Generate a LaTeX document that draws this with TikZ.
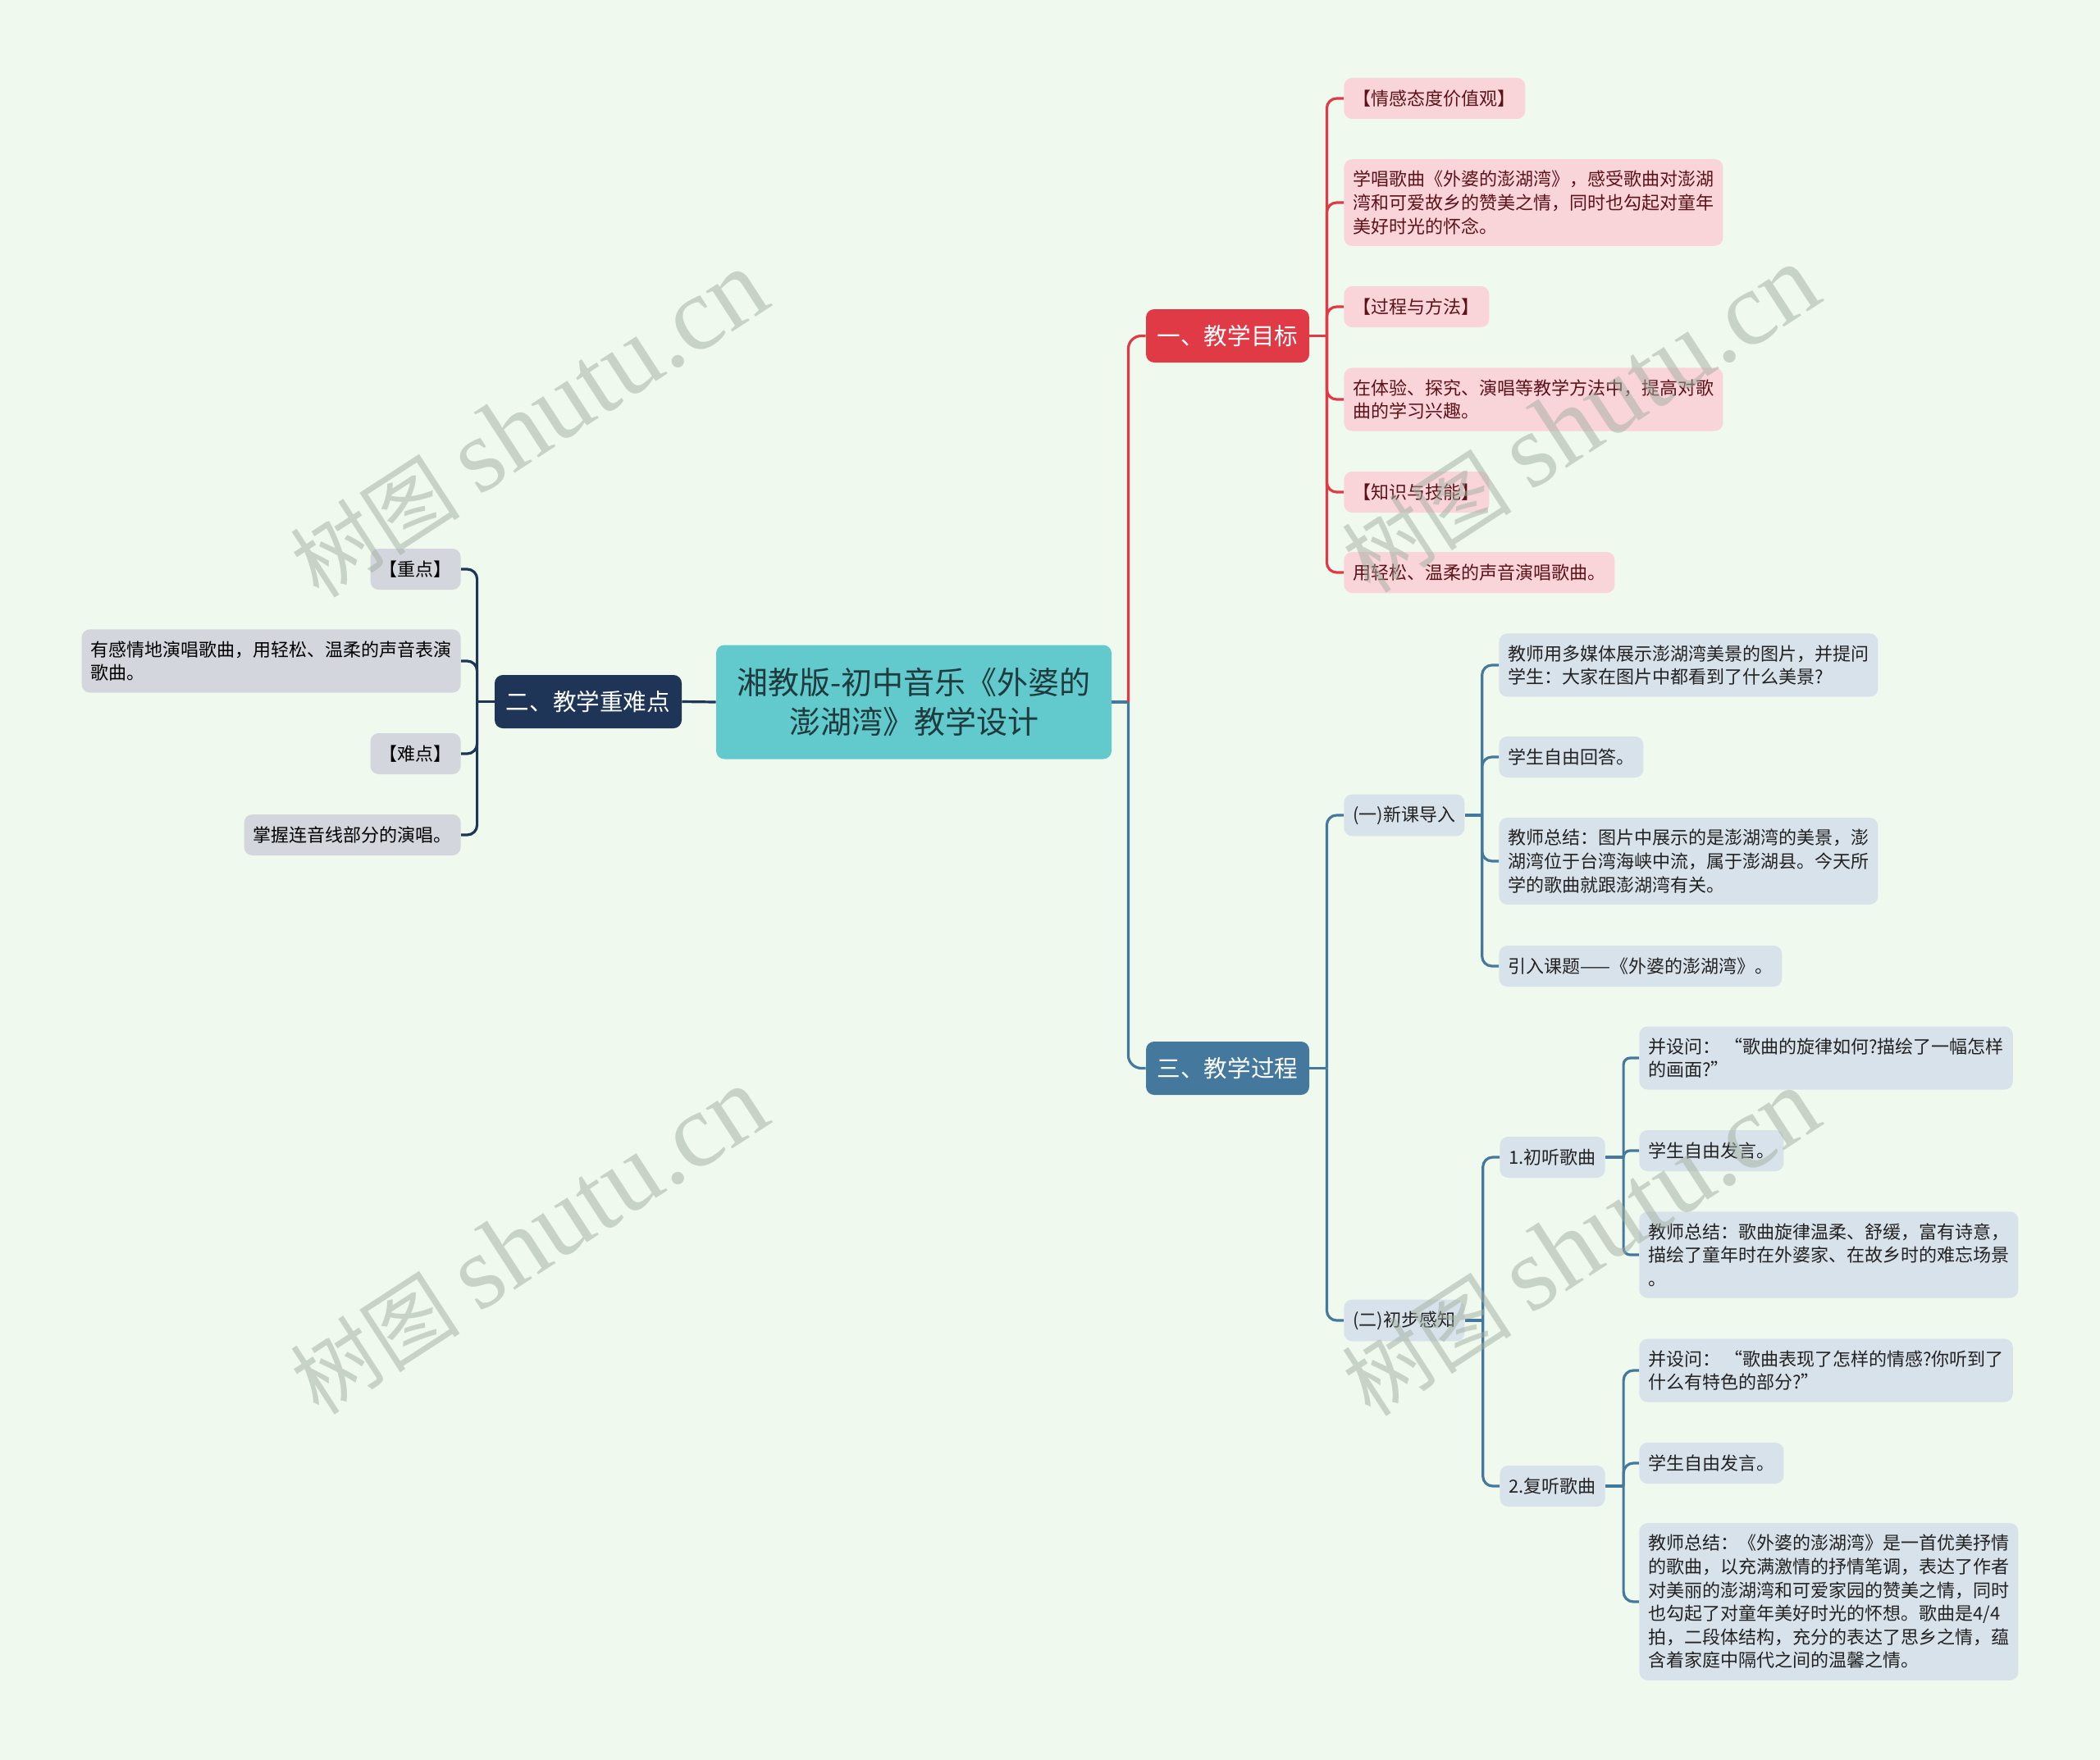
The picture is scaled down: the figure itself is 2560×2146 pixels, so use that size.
\documentclass[tikz,border=0pt]{standalone}
\usepackage{fontspec}
\setmainfont{Noto Sans CJK SC}
\newfontfamily\wmfont{Liberation Serif}

\definecolor{bgmint}{HTML}{F0F9EE}
\definecolor{rootfill}{HTML}{62C9CC}
\definecolor{roottext}{HTML}{1E3B3E}
\definecolor{goalred}{HTML}{E03A46}
\definecolor{pinkfill}{HTML}{F9D5DA}
\definecolor{pinktext}{HTML}{5B1319}
\definecolor{keynavy}{HTML}{1F3557}
\definecolor{grayfill}{HTML}{D3D6DD}
\definecolor{procblue}{HTML}{44789D}
\definecolor{bluefill}{HTML}{D8E2EA}
\definecolor{bluetext}{HTML}{222222}
\definecolor{wmgray}{RGB}{160,175,160}

\begin{document}
\begin{tikzpicture}[
        x=0.5pt, y=-0.5pt,
        rootbox/.style={rectangle, fill=rootfill, text=roottext, rounded corners=5pt, minimum width=241pt, minimum height=69.5pt, align=center, font=\fontsize{19}{24}\selectfont},
        branch/.style={rectangle, rounded corners=5pt, text=white, minimum width=99.5pt, minimum height=32.5pt, align=center, font=\fontsize{14.3}{17}\selectfont},
        leaf/.style={rectangle, rounded corners=5pt, inner xsep=5.5pt, inner ysep=7pt, minimum height=25pt, align=left, font=\fontsize{11}{14.3}\selectfont},
        pinkleaf/.style={leaf, fill=pinkfill, text=pinktext, anchor=west},
        grayleaf/.style={leaf, fill=grayfill, text=black, anchor=east},
        blueleaf/.style={leaf, fill=bluefill, text=bluetext, anchor=west},
        redline/.style={draw=goalred, line width=1.6pt},
        navyline/.style={draw=keynavy, line width=1.6pt},
        blueline/.style={draw=procblue, line width=1.6pt},
        watermark/.style={text=wmgray, opacity=0.5, rotate=33, font=\fontsize{52}{52}\selectfont}
    ]
        \useasboundingbox (0,0) rectangle (2560,2146);
        \fill[bgmint] (0,0) rectangle (2560,2146);

        % centre and main branches
        \node[rootbox] (root) at (1114,856) {湘教版-初中音乐《外婆的\\澎湖湾》教学设计};
        \node[branch, fill=goalred] (goal) at (1496.5,409.5) {一、教学目标};
        \node[branch, fill=keynavy, minimum width=114pt] (key) at (717,855.5) {二、教学重难点};
        \node[branch, fill=procblue] (proc) at (1496.5,1302.5) {三、教学过程};

        % 一、教学目标
        \node[pinkleaf, minimum width=110.5pt] (goal1) at (1638,120) {【情感态度价值观】};
        \node[pinkleaf] (goal2) at (1638,247) {学唱歌曲《外婆的澎湖湾》，感受歌曲对澎湖\\湾和可爱故乡的赞美之情，同时也勾起对童年\\美好时光的怀念。};
        \node[pinkleaf, minimum width=88.5pt] (goal3) at (1638,374) {【过程与方法】};
        \node[pinkleaf] (goal4) at (1638,487) {在体验、探究、演唱等教学方法中，提高对歌\\曲的学习兴趣。};
        \node[pinkleaf, minimum width=88.5pt] (goal5) at (1638,600) {【知识与技能】};
        \node[pinkleaf] (goal6) at (1638,698) {用轻松、温柔的声音演唱歌曲。};

        % 二、教学重难点
        \node[grayleaf] (key1) at (562,694) {【重点】};
        \node[grayleaf] (key2) at (562,806) {有感情地演唱歌曲，用轻松、温柔的声音表演\\歌曲。};
        \node[grayleaf] (key3) at (562,919) {【难点】};
        \node[grayleaf] (key4) at (562,1018) {掌握连音线部分的演唱。};

        % 三、教学过程
        \node[blueleaf] (intro) at (1638,994) {(一)新课导入};
        \node[blueleaf] (feel) at (1638,1610) {(二)初步感知};

        \node[blueleaf] (intro1) at (1827,811) {教师用多媒体展示澎湖湾美景的图片，并提问\\学生：大家在图片中都看到了什么美景?};
        \node[blueleaf] (intro2) at (1827,923) {学生自由回答。};
        \node[blueleaf] (intro3) at (1827,1050) {教师总结：图片中展示的是澎湖湾的美景，澎\\湖湾位于台湾海峡中流，属于澎湖县。今天所\\学的歌曲就跟澎湖湾有关。};
        \node[blueleaf] (intro4) at (1827,1178) {引入课题——《外婆的澎湖湾》。};

        \node[blueleaf] (hear1) at (1828,1411) {1.初听歌曲};
        \node[blueleaf] (hear2) at (1828,1812) {2.复听歌曲};

        \node[blueleaf] (hearA1) at (1998,1290) {并设问： “歌曲的旋律如何?描绘了一幅怎样\\的画面?”};
        \node[blueleaf] (hearA2) at (1998,1403) {学生自由发言。};
        \node[blueleaf] (hearA3) at (1998,1530) {教师总结：歌曲旋律温柔、舒缓，富有诗意，\\描绘了童年时在外婆家、在故乡时的难忘场景\\。};

        \node[blueleaf] (hearB1) at (1998,1671) {并设问： “歌曲表现了怎样的情感?你听到了\\什么有特色的部分?”};
        \node[blueleaf] (hearB2) at (1998,1784) {学生自由发言。};
        \node[blueleaf] (hearB3) at (1998,1953) {教师总结：《外婆的澎湖湾》是一首优美抒情\\的歌曲，以充满激情的抒情笔调，表达了作者\\对美丽的澎湖湾和可爱家园的赞美之情，同时\\也勾起了对童年美好时光的怀想。歌曲是4/4\\拍，二段体结构，充分的表达了思乡之情，蕴\\含着家庭中隔代之间的温馨之情。};

        % connectors
        \draw[blueline] (root.east) -- ++(20,0) coordinate (rootT);
        \draw[redline, rounded corners=8pt] (rootT) |- (goal.west);
        \draw[blueline, rounded corners=8pt] (rootT) |- (proc.west);
        \draw[navyline] (root.west) -- (key.east);

        \draw[redline] (goal.east) -- ++(21,0) coordinate (goalT);
        \foreach \n in {goal1,goal2,goal3,goal4,goal5,goal6}
            \draw[redline, rounded corners=6pt] (goalT) |- (\n.west);

        \draw[navyline] (key.west) -- ++(-21,0) coordinate (keyT);
        \foreach \n in {key1,key2,key3,key4}
            \draw[navyline, rounded corners=6pt] (keyT) |- (\n.east);

        \draw[blueline] (proc.east) -- ++(21,0) coordinate (procT);
        \foreach \n in {intro,feel}
            \draw[blueline, rounded corners=6pt] (procT) |- (\n.west);

        \draw[blueline] (intro.east) -- ++(21,0) coordinate (introT);
        \foreach \n in {intro1,intro2,intro3,intro4}
            \draw[blueline, rounded corners=6pt] (introT) |- (\n.west);

        \draw[blueline] (feel.east) -- ++(22,0) coordinate (feelT);
        \foreach \n in {hear1,hear2}
            \draw[blueline, rounded corners=6pt] (feelT) |- (\n.west);

        \draw[blueline] (hear1.east) -- ++(22,0) coordinate (hear1T);
        \foreach \n in {hearA1,hearA2,hearA3}
            \draw[blueline, rounded corners=4pt] (hear1T) |- (\n.west);

        \draw[blueline] (hear2.east) -- ++(22,0) coordinate (hear2T);
        \foreach \n in {hearB1,hearB2,hearB3}
            \draw[blueline, rounded corners=6pt] (hear2T) |- (\n.west);

        % watermarks
        \node[watermark] (wm1) at (645,518) {树图 {\wmfont\fontsize{64}{64}\selectfont shutu.cn}};
        \node[watermark] (wm2) at (645,1514) {树图 {\wmfont\fontsize{64}{64}\selectfont shutu.cn}};
        \node[watermark] (wm3) at (1927,512) {树图 {\wmfont\fontsize{64}{64}\selectfont shutu.cn}};
        \node[watermark] (wm4) at (1927,1516) {树图 {\wmfont\fontsize{64}{64}\selectfont shutu.cn}};
    \end{tikzpicture}
\end{document}
